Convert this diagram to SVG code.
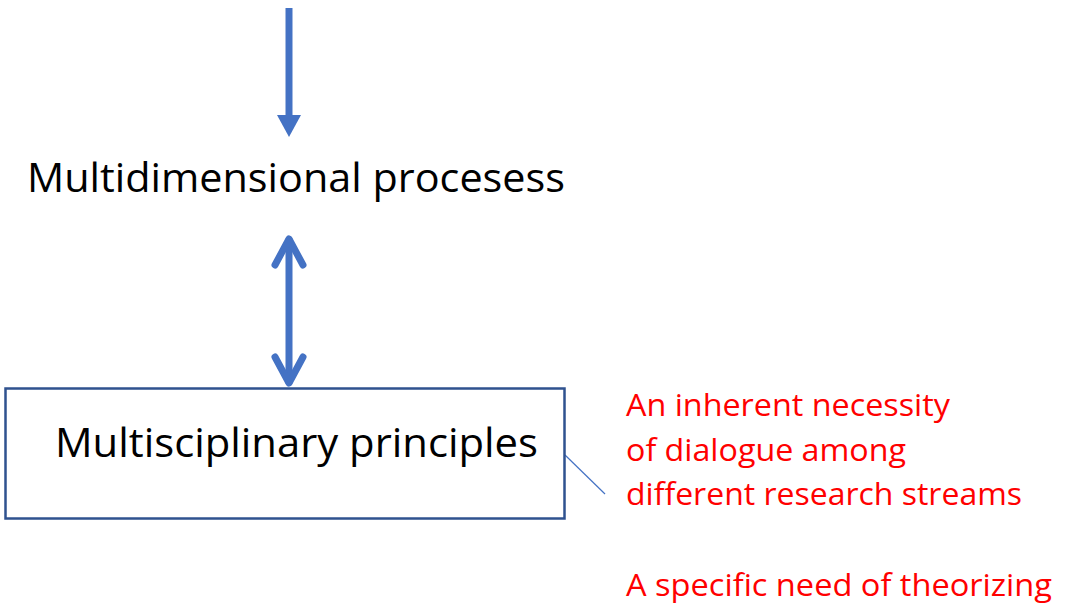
<svg xmlns="http://www.w3.org/2000/svg" width="1076" height="603" viewBox="0 0 1076 603">
<style>
.blk{font-family:"Open Sans","Noto Sans",sans-serif;font-size:41px;fill:#000}
.red{font-family:"Open Sans","Noto Sans",sans-serif;font-size:31px;fill:#FF0000}
.conn{stroke:#4472C4;fill:none}
</style>
<rect width="1076" height="603" fill="#fff"/>
<g id="connectors">
<line class="conn" x1="289" y1="8" x2="289" y2="117" stroke-width="7"/>
<polygon points="277,115 301,115 289,137" fill="#4472C4"/>
<line class="conn" x1="289" y1="240" x2="289" y2="382" stroke-width="7" stroke-linecap="round"/>
<polyline class="conn" points="275,265 289,239 303,265" stroke-width="7" stroke-linecap="round" stroke-linejoin="round"/>
<polyline class="conn" points="275,357 289,383 303,357" stroke-width="7" stroke-linecap="round" stroke-linejoin="round"/>
<line class="conn" x1="565" y1="455" x2="605" y2="494" stroke-width="1.2"/>
</g>
<g id="node-multidimensional">
<text class="blk" x="27" y="192" textLength="538" lengthAdjust="spacingAndGlyphs">Multidimensional procesess</text>
</g>
<g id="node-multisciplinary">
<rect x="5.5" y="388.5" width="559" height="130" fill="none" stroke="#2F528F" stroke-width="2.5"/>
<text class="blk" x="55" y="457" textLength="483" lengthAdjust="spacingAndGlyphs">Multisciplinary principles</text>
</g>
<g id="note">
<text class="red" x="626" y="416" textLength="324" lengthAdjust="spacingAndGlyphs">An inherent necessity</text>
<text class="red" x="626" y="461" textLength="280" lengthAdjust="spacingAndGlyphs">of dialogue among</text>
<text class="red" x="626" y="505" textLength="396" lengthAdjust="spacingAndGlyphs">different research streams</text>
<text class="red" x="626" y="596" textLength="426" lengthAdjust="spacingAndGlyphs">A specific need of theorizing</text>
</g>
</svg>
